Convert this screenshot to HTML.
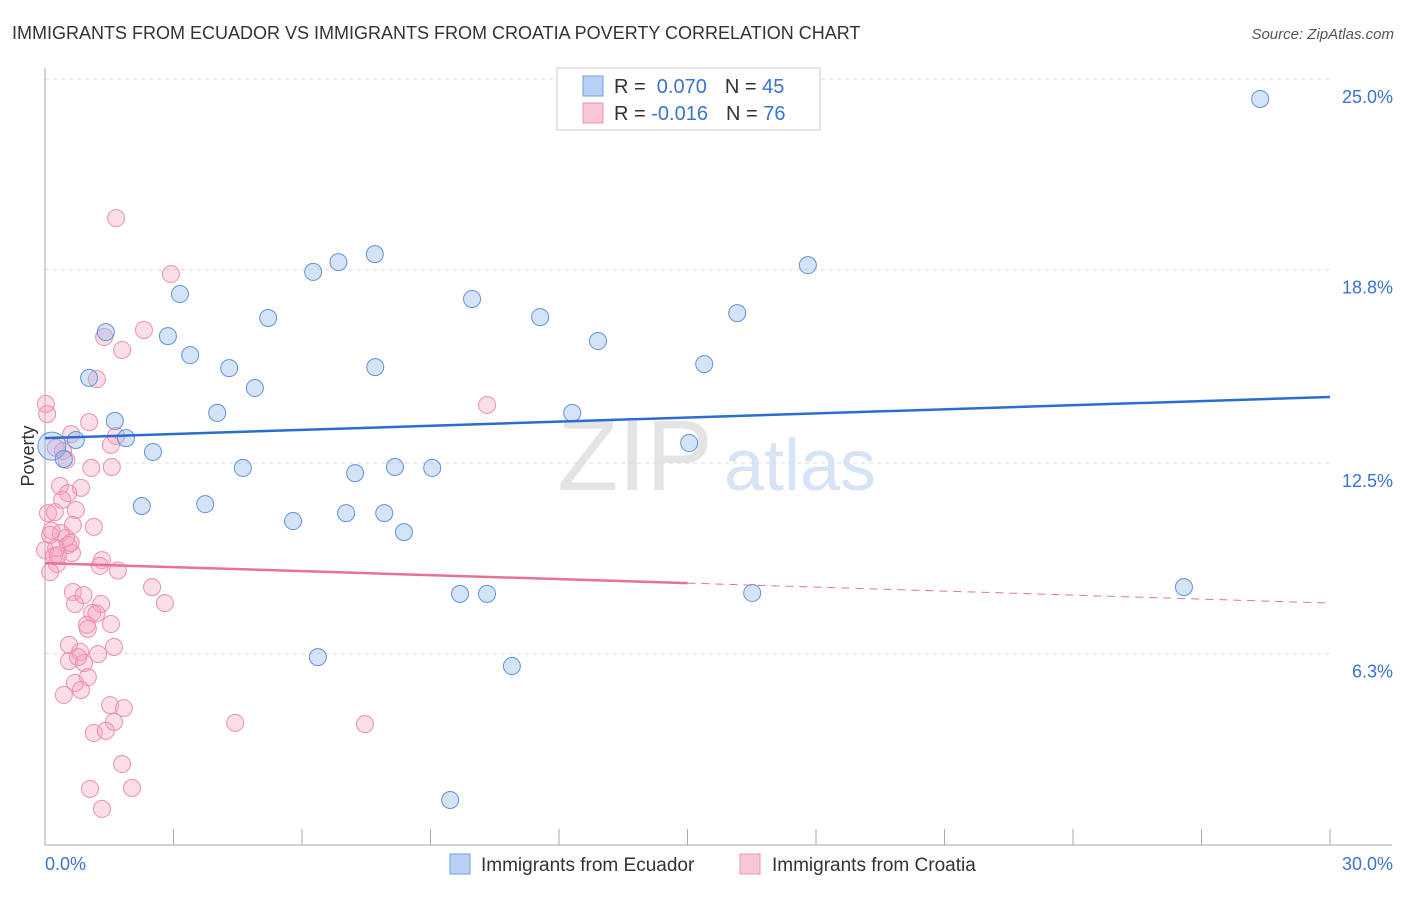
<!DOCTYPE html>
<html><head><meta charset="utf-8"><style>
body{margin:0;background:#fff;font-family:"Liberation Sans",sans-serif}
svg text{font-family:"Liberation Sans",sans-serif}
</style></head><body>
<svg id="c" width="1406" height="892">
<text x="12" y="39" font-size="18" fill="#333">IMMIGRANTS FROM ECUADOR VS IMMIGRANTS FROM CROATIA POVERTY CORRELATION CHART</text>
<text x="1394" y="39" font-size="15" fill="#555" font-style="italic" text-anchor="end">Source: ZipAtlas.com</text>
<g><text x="635" y="490" font-size="100" fill="#e4e4e4" text-anchor="middle" font-family="Liberation Serif">ZIP</text><text x="800" y="490" font-size="72" fill="#d6e4f5" text-anchor="middle">atlas</text></g>
<g id="grid"></g><g id="axes"></g><g id="marks"></g>
<text transform="translate(34,456) rotate(-90)" font-size="18" fill="#333" text-anchor="middle">Poverty</text>
<g>
<rect x="557" y="68" width="263" height="62" fill="#fff" stroke="#ccc"/>
<rect x="583" y="76" width="20" height="20" fill="#b7d0f3" stroke="#6f9ee0"/>
<rect x="583" y="103" width="20" height="20" fill="#f9c6d6" stroke="#ef90b0"/>
<text x="614" y="93" font-size="20" fill="#333">R = <tspan fill="#3a73d0">&#160;0.070</tspan><tspan dx="18">N = </tspan><tspan fill="#3a73d0">45</tspan></text>
<text x="614" y="120" font-size="20" fill="#333">R = <tspan fill="#3a73d0">-0.016</tspan><tspan dx="18">N = </tspan><tspan fill="#3a73d0">76</tspan></text>
</g>
<g>
<rect x="450" y="854" width="20" height="20" fill="#b7d0f3" stroke="#6f9ee0"/>
<text x="481" y="871" font-size="19" fill="#333">Immigrants from Ecuador</text>
<rect x="740" y="854" width="20" height="20" fill="#f9c6d6" stroke="#ef90b0"/>
<text x="772" y="871" font-size="19" fill="#333">Immigrants from Croatia</text>
</g>
</svg>
<script>
const yTicks=[25.0,18.8,12.5,6.3];
const yTickLabels=["25.0%","18.8%","12.5%","6.3%"];
const xTickLabels=["0.0%","30.0%"];
const ecuadorX=[28.37,17.81,7.70,6.85,6.26,3.15,9.97,16.16,5.21,11.56,1.42,2.87,12.91,3.39,15.39,4.30,7.71,1.03,4.90,4.02,1.63,12.31,1.89,0.72,15.04,0.16,2.52,0.44,4.62,7.24,8.17,9.04,2.26,3.74,5.79,7.03,7.92,8.38,26.59,9.69,10.32,16.51,6.37,10.90,9.46];
const ecuadorY=[24.35,18.94,19.30,19.04,18.72,18.0,17.84,17.38,17.22,17.25,16.76,16.63,16.47,16.01,15.72,15.59,15.62,15.27,14.94,14.13,13.87,14.13,13.31,13.25,13.15,13.05,12.86,12.63,12.34,12.17,12.37,12.34,11.10,11.16,10.61,10.87,10.87,10.25,8.46,8.24,8.24,8.27,6.18,5.89,1.53];
const croatiaX=[1.66,2.94,2.31,1.38,1.80,1.21,10.32,0.02,0.05,1.03,0.61,1.66,1.54,0.42,1.08,1.56,0.35,0.84,0.54,0.07,0.23,0.72,1.14,0.65,0.37,0.12,0.49,0.26,0.54,0,0.21,0.63,1.33,1.28,0.28,0.12,2.50,0.65,0.70,1.31,2.80,1.10,0.98,1.54,1.00,0.56,1.61,0.82,1.24,0.56,0.91,0.77,1.00,0.70,0.84,0.44,1.52,1.84,1.61,4.44,7.47,1.14,1.42,1.80,1.05,2.03,1.33,0.3,0.9,0.5,1.2,0.15,0.6,0.4,1.7,0.25];
const croatiaY=[20.47,18.65,16.83,16.60,16.18,15.23,14.39,14.42,14.09,13.83,13.44,13.38,13.09,12.89,12.34,12.37,11.75,11.69,11.52,10.87,10.90,10.97,10.42,10.48,10.22,10.16,10.06,9.73,9.83,9.67,9.47,9.57,9.34,9.15,9.21,8.95,8.46,8.30,7.91,7.91,7.94,7.62,7.23,7.26,7.10,6.58,6.51,6.35,6.28,6.05,5.99,6.18,5.53,5.34,5.11,4.95,4.62,4.52,4.07,4.04,4.00,3.71,3.78,2.70,1.89,1.92,1.24,9.5,8.2,12.6,7.6,10.3,9.9,11.3,9.0,13.0];
const ecuadorTrend=[13.31,14.65];
const croatiaTrend=[9.24,7.94];
const NS="http://www.w3.org/2000/svg";
const X=v=>45+v/30*1285, Y=v=>847-v/6.25*192;
function mk(p,t,a){const e=document.createElementNS(NS,t);for(const k in a)e.setAttribute(k,a[k]);document.getElementById(p).appendChild(e);return e;}
yTicks.forEach((t,i)=>{
 const g=mk('grid','line',{x1:45,x2:1330,y1:Y(t),y2:Y(t),stroke:'#ddd','stroke-dasharray':'4,4'});
 
 
 const l=mk('grid','text',{x:1393,y:Y(t)+24,'font-size':18,fill:'#3a73d0','text-anchor':'end'});l.textContent=yTickLabels[i];
 
 
});
mk('axes','line',{x1:45,x2:45,y1:68,y2:845,stroke:'#aaa'});
mk('axes','line',{x1:45,x2:1392,y1:845,y2:845,stroke:'#aaa'});
for(let k=0;k<=10;k++){const t=mk('axes','line',{x1:X(k*3),x2:X(k*3),y1:829,y2:845,stroke:'#aaa'});
 
 }
[[45,'start'],[1393,'end']].forEach((p,i)=>{const l=mk('axes','text',{x:p[0],y:870,'font-size':18,fill:'#3a73d0','text-anchor':p[1]});l.textContent=xTickLabels[i];
 
 });
croatiaX.forEach((x,i)=>{const c=mk('marks','circle',{cx:X(x),cy:Y(croatiaY[i]),r:8.5,fill:'rgba(245,160,188,0.35)',stroke:'#ec8fb0','stroke-width':1});
 
 });
ecuadorX.forEach((x,i)=>{const c=mk('marks','circle',{cx:X(x),cy:Y(ecuadorY[i]),r:i==25?14:8.5,fill:'rgba(150,185,235,0.4)',stroke:'#5f93dc','stroke-width':1});
 
 });
const b=mk('marks','line',{x1:X(0),x2:X(30),y1:Y(ecuadorTrend[0]),y2:Y(ecuadorTrend[1]),stroke:'#2a6dd2','stroke-width':2.5});


const pm=croatiaTrend[0]+(croatiaTrend[1]-croatiaTrend[0])*0.5;
const p1=mk('marks','line',{x1:X(0),x2:X(15),y1:Y(croatiaTrend[0]),y2:Y(pm),stroke:'#e8709a','stroke-width':2.5});


const p2=mk('marks','line',{x1:X(15),x2:X(30),y1:Y(pm),y2:Y(croatiaTrend[1]),stroke:'#e8709a','stroke-width':1,'stroke-dasharray':'8,6'});


</script>
</body></html>
